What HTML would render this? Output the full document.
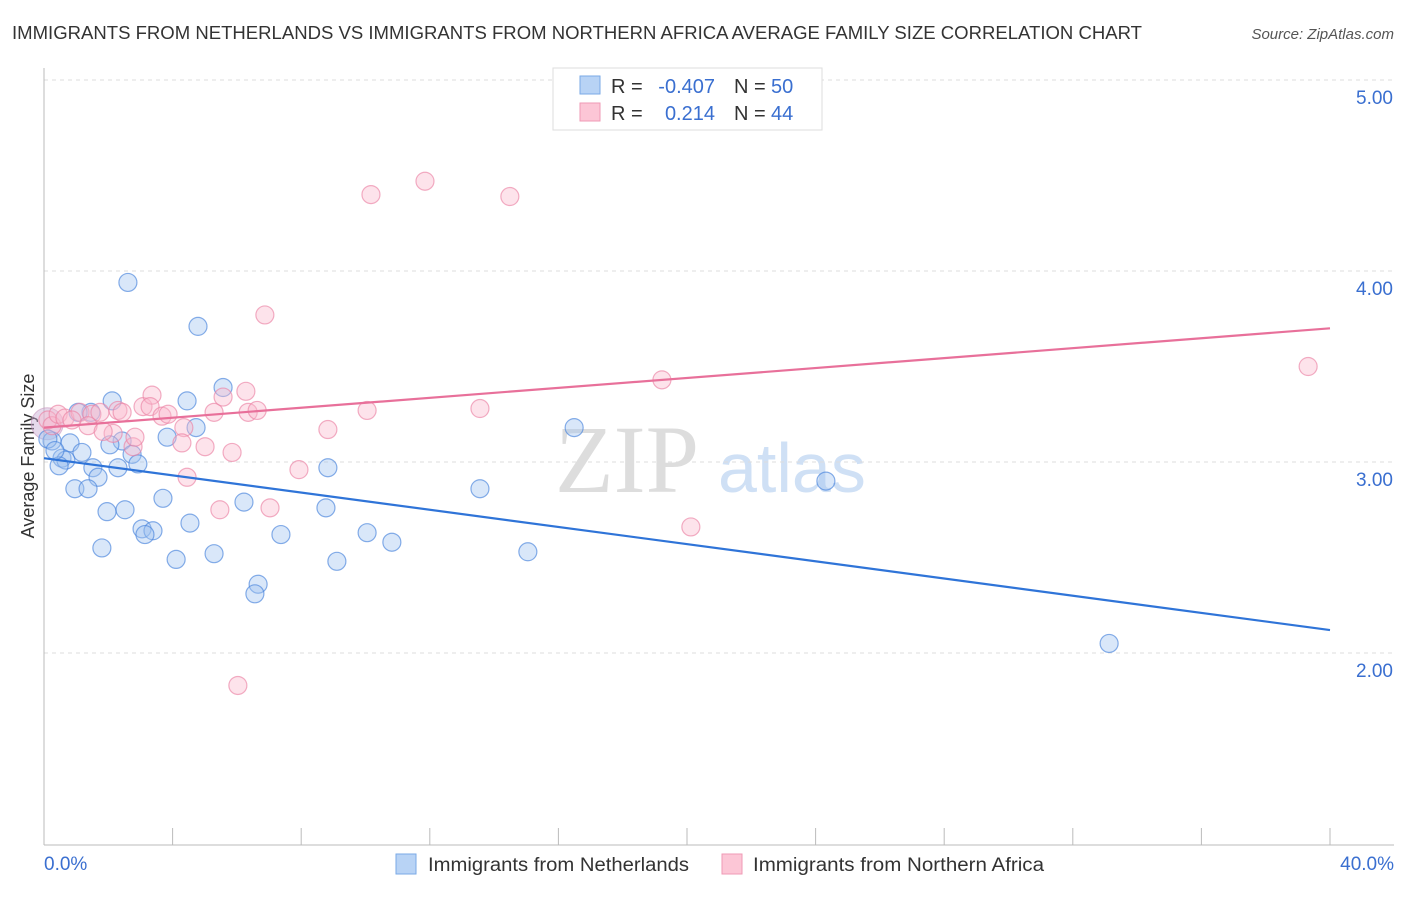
<!DOCTYPE html>
<html><head><meta charset="utf-8"><style>
body{margin:0;background:#fff;font-family:"Liberation Sans",sans-serif}
</style></head><body>
<svg id="c" width="1406" height="892" xmlns="http://www.w3.org/2000/svg">
<text x="12" y="39" font-size="18" fill="#333" textLength="1130" lengthAdjust="spacingAndGlyphs">IMMIGRANTS FROM NETHERLANDS VS IMMIGRANTS FROM NORTHERN AFRICA AVERAGE FAMILY SIZE CORRELATION CHART</text>
<text x="1394" y="39" font-size="15" fill="#555" font-style="italic" text-anchor="end">Source: ZipAtlas.com</text>
<text x="34" y="456" font-size="18" fill="#333" text-anchor="middle" transform="rotate(-90 34 456)">Average Family Size</text>
<text x="555" y="492" font-size="96" fill="#ddd" font-family="Liberation Serif,serif">ZIP</text>
<text x="718" y="492" font-size="70" fill="#cfe0f5">atlas</text>
<g id="grid"></g><g id="pts"></g><g id="lines"></g>
<g>
<rect x="553" y="68" width="269" height="62" fill="#fff" stroke="#ddd"/>
<rect x="580" y="76" width="20" height="18" fill="#b8d3f5" stroke="#7aa9e6"/>
<rect x="580" y="103" width="20" height="18" fill="#fcc6d6" stroke="#ef9ab5"/>
<text x="611" y="93" font-size="20" fill="#333">R =</text>
<text x="715" y="93" font-size="20" fill="#3a6fd0" text-anchor="end">-0.407</text>
<text x="734" y="93" font-size="20" fill="#333">N =</text>
<text x="771" y="93" font-size="20" fill="#3a6fd0">50</text>
<text x="611" y="120" font-size="20" fill="#333">R =</text>
<text x="715" y="120" font-size="20" fill="#3a6fd0" text-anchor="end">0.214</text>
<text x="734" y="120" font-size="20" fill="#333">N =</text>
<text x="771" y="120" font-size="20" fill="#3a6fd0">44</text>
</g>
<g>
<rect x="396" y="854" width="20" height="20" fill="#b8d3f5" stroke="#7aa9e6"/>
<text x="428" y="871" font-size="19" fill="#333" textLength="261" lengthAdjust="spacingAndGlyphs">Immigrants from Netherlands</text>
<rect x="722" y="854" width="20" height="20" fill="#fcc6d6" stroke="#ef9ab5"/>
<text x="753" y="871" font-size="19" fill="#333" textLength="291" lengthAdjust="spacingAndGlyphs">Immigrants from Northern Africa</text>
</g>
</svg>
<script>
const yTicks=[2,3,4,5];
const yTickLabels=["2.00","3.00","4.00","5.00"];
const xTickLabels=["0.0%","40.0%"];
const blueX=[2.61,4.79,5.57,4.45,2.12,1.46,1.06,4.73,3.83,2.43,2.05,0.81,0.25,1.18,2.74,0.56,0.68,0.47,2.92,1.52,2.30,1.68,0.96,1.37,3.70,6.22,1.96,2.52,4.54,3.05,3.39,3.14,1.80,5.29,4.11,7.37,8.77,8.83,10.05,10.82,9.11,6.66,6.56,13.56,16.49,15.05,24.32,33.13,0.12,0.34];
const blueY=[3.94,3.71,3.39,3.32,3.32,3.26,3.26,3.18,3.13,3.11,3.09,3.10,3.11,3.05,3.04,3.02,3.01,2.98,2.99,2.97,2.97,2.92,2.86,2.86,2.81,2.79,2.74,2.75,2.68,2.65,2.64,2.62,2.55,2.52,2.49,2.62,2.76,2.97,2.63,2.58,2.48,2.36,2.31,2.86,3.18,2.53,2.90,2.05,3.12,3.06];
const pinkX=[0.12,0.25,0.44,0.65,1.12,1.49,1.74,2.30,2.43,3.08,3.36,3.30,3.67,3.86,4.35,5.29,5.57,6.28,6.35,6.63,6.87,10.17,11.85,14.49,10.05,13.56,19.22,39.32,8.83,2.15,2.77,2.83,4.29,5.01,5.85,4.45,5.47,7.03,7.93,20.12,6.03,1.37,0.87,1.84];
const pinkY=[3.22,3.19,3.25,3.23,3.26,3.25,3.26,3.27,3.26,3.29,3.35,3.29,3.24,3.25,3.18,3.26,3.34,3.37,3.26,3.27,3.77,4.40,4.47,4.39,3.27,3.28,3.43,3.50,3.17,3.15,3.08,3.13,3.10,3.08,3.05,2.92,2.75,2.76,2.96,2.66,1.83,3.19,3.22,3.16];
const blueLine=[3.02,2.12];
const pinkLine=[3.18,3.70];
const NS="http://www.w3.org/2000/svg";
const X=v=>44+v*32.15, Y=v=>653-(v-2)*191;
function mk(t,a,p){const e=document.createElementNS(NS,t);for(const k in a)e.setAttribute(k,a[k]);document.getElementById(p).appendChild(e);return e;}
yTicks.forEach((t,i)=>{
 const l=mk('line',{x1:44,x2:1394,y1:Y(t),y2:Y(t),stroke:'#ddd','stroke-dasharray':'4,4'},'grid');
 
 
 const tx=mk('text',{x:1393,y:Y(t)+24,'font-size':19,fill:'#3a6fd0','text-anchor':'end'},'grid');tx.textContent=yTickLabels[i];
 
 
});
mk('line',{x1:44,x2:44,y1:68,y2:845,stroke:'#bbb'},'grid');
const ax=mk('line',{x1:44,x2:1394,y1:845,y2:845,stroke:'#bbb'},'grid');


for(let i=0;i<=10;i++){mk('line',{x1:X(i*4),x2:X(i*4),y1:828,y2:845,stroke:'#bbb'},'grid');}
[[0,'start',44],[40,'end',1394]].forEach((d,i)=>{const t=mk('text',{x:d[2],y:870,'font-size':19,fill:'#3a6fd0','text-anchor':d[1]},'grid');t.textContent=xTickLabels[i];
 
 });
mk('circle',{cx:X(0.1),cy:Y(3.2),r:16,fill:'rgba(200,170,210,0.45)',stroke:'rgba(200,150,190,0.6)'},'pts');
blueX.forEach((x,i)=>{const c=mk('circle',{cx:X(x),cy:Y(blueY[i]),r:9,fill:'rgba(160,195,240,0.4)',stroke:'rgba(70,130,220,0.65)','stroke-width':1.2},'pts');
 
 });
pinkX.forEach((x,i)=>{const c=mk('circle',{cx:X(x),cy:Y(pinkY[i]),r:9,fill:'rgba(250,185,205,0.4)',stroke:'rgba(235,130,165,0.65)','stroke-width':1.2},'pts');
 
 });
const bl=mk('line',{x1:X(0),x2:X(40),y1:Y(blueLine[0]),y2:Y(blueLine[1]),stroke:'#2f74d8','stroke-width':2.2},'lines');


const pl=mk('line',{x1:X(0),x2:X(40),y1:Y(pinkLine[0]),y2:Y(pinkLine[1]),stroke:'#e8709a','stroke-width':2.2},'lines');


</script>
</body></html>
